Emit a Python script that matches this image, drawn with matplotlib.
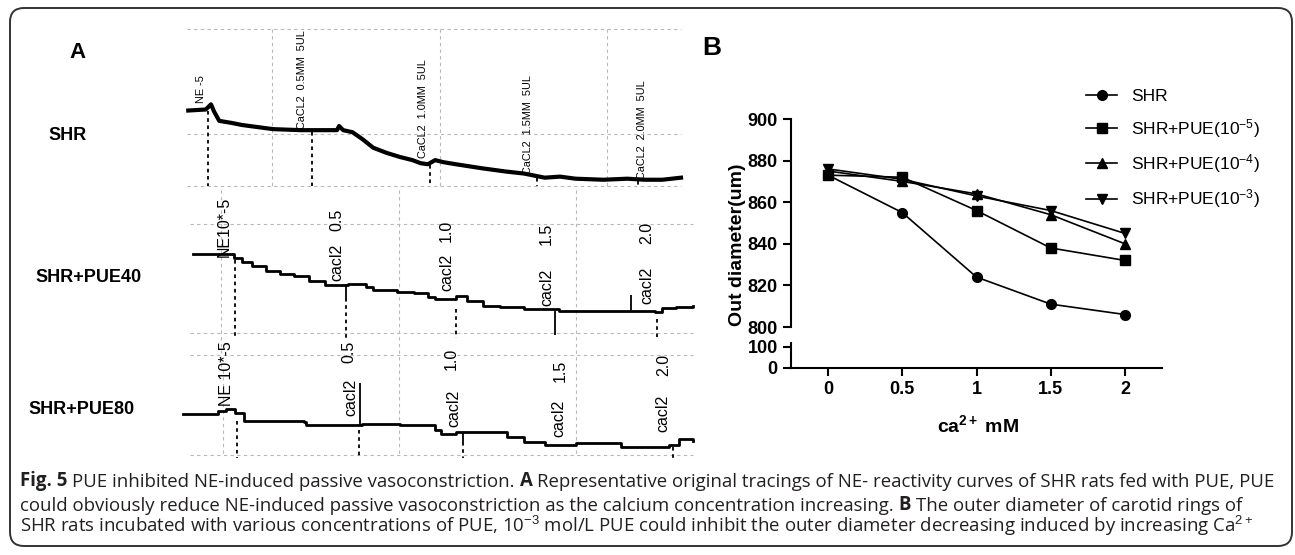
import matplotlib
matplotlib.use('Agg')
import matplotlib.pyplot as plt
from matplotlib.patches import FancyBboxPatch
from matplotlib.transforms import IdentityTransform

plt.rcParams['mathtext.fontset'] = 'custom'
plt.rcParams['mathtext.rm'] = 'Liberation Sans'
plt.rcParams['mathtext.it'] = 'Liberation Sans:italic'
plt.rcParams['mathtext.bf'] = 'Liberation Sans:bold'

W, H = 1295, 555

# ---------------------------------------------------------------------------
# panel B data: outer diameter (um) vs Ca2+ (mM)
ca_mm = [0, 0.5, 1, 1.5, 2]
shr = [873, 855, 824, 811, 806]
pue_5 = [873, 872, 856, 838, 832]
pue_4 = [875, 870, 864, 854, 840]
pue_3 = [876, 871, 863, 856, 845]
series_names = ['SHR', 'SHR+PUE(10$^{-5}$)', 'SHR+PUE(10$^{-4}$)', 'SHR+PUE(10$^{-3}$)']
series_markers = ['o', 's', '^', 'v']
y_ticks_top = [800, 820, 840, 860, 880, 900]
y_ticks_low = [0, 100]
x_ticks = [0, 0.5, 1, 1.5, 2]
x_tick_labels = ['0', '0.5', '1', '1.5', '2']

# ---------------------------------------------------------------------------
# panel A data: tracings (time, level)
shr_t = [188, 205, 208, 210, 213, 218, 230, 240, 255, 270, 297, 320, 332, 334, 338, 347, 357,
         367, 380, 393, 405, 413, 420, 427, 435, 447, 473, 495, 513, 533, 548, 563, 590, 613,
         630, 647, 665]
shr_y = [107, 106, 103, 101, 108, 117, 119, 121, 123, 125, 126, 126, 126, 122, 126, 128, 135,
         143, 148, 152, 155, 158, 159, 155, 157, 159, 163, 166, 168, 172, 171, 173, 174, 173,
         174, 174, 172]
shr_evt_t = [207, 308, 422, 526, 623]
shr_evt_y = [107, 128, 160, 172, 175]
shr_lab = ['NE -5', 'CaCL2  0.5MM  5UL', 'CaCL2  1.0MM  5UL', 'CaCL2  1.5MM  5UL',
           'CaCL2  2.0MM  5UL']
shr_lab_t = [200, 298, 415, 517, 627]
shr_lab_y = [100, 125, 153, 168, 173]

pue40_t = [193, 227, 232, 240, 250, 263, 277, 290, 305, 320, 343, 360, 367, 390, 407, 420, 427,
           447, 458, 473, 490, 513, 547, 580, 613, 640, 647, 660, 677]
pue40_y = [252, 252, 256, 260, 264, 268, 271, 273, 278, 282, 281, 284, 287, 289, 290, 294, 296,
           293, 297, 302, 303, 305, 307, 307, 307, 308, 304, 303, 302]
pue40_spike_t = [341, 543, 617]
pue40_spike_a = [281, 307, 307]
pue40_spike_b = [295, 330, 292]
pue40_evt_t = [233, 341, 447, 642]
pue40_evt_y = [258, 295, 305, 315]
pue40_cacl_t = [332, 438, 535, 632]
pue40_cacl_y = [278, 288, 302, 300]
pue40_num_y = [230, 240, 243, 242]

pue80_t = [183, 217, 225, 233, 242, 300, 302, 353, 356, 393, 427, 433, 447, 480, 497, 513, 533,
           563, 607, 653, 663, 677]
pue80_y = [413, 410, 408, 412, 419, 420, 423, 423, 422, 423, 428, 432, 430, 430, 435, 440, 443,
           441, 445, 443, 437, 439]
pue80_spike_t = [354, 454]
pue80_spike_a = [423, 430]
pue80_spike_b = [383, 440]
pue80_evt_t = [235, 353, 454, 657]
pue80_evt_y = [419, 428, 440, 445]
pue80_cacl_t = [345, 445, 547, 647]
pue80_cacl_y = [415, 425, 435, 430]
pue80_num_t = [343, 443, 548, 648]
pue80_num_y = [363, 370, 382, 376]

conc_labels = ['0.5', '1.0', '1.5', '2.0']

fig = plt.figure(figsize=(W / 100, H / 100), dpi=100)

# outer rounded frame
frame = FancyBboxPatch((10, 9), 1282, 538, boxstyle='round,pad=0,rounding_size=14',
                       transform=IdentityTransform(), fill=False, edgecolor='#333333', lw=1.4)
fig.add_artist(frame)

# ---------------------------------------------------------------------------
# panel A
def trace_axes(top_px, bot_px, y0):
    ax = fig.add_axes([180 / W, 1 - bot_px / H, 520 / W, (bot_px - top_px) / H])
    ax.set_xlim(180, 180 + 520 / 1.033)
    ax.set_ylim(y0 + (bot_px - y0) / 1.033, y0 + (top_px - y0) / 1.033)
    ax.axis('off')
    ax.patch.set_alpha(0)
    return ax

grid_kw = dict(colors='#b8b8b8', linestyles=(0, (3, 3)), lw=0.8)
evt_kw = dict(colors='black', linestyles=(0, (2, 2)), lw=1.3)
narrow = ['Liberation Sans Narrow', 'Liberation Sans', 'DejaVu Sans']

ax1 = trace_axes(10, 190, 0)
ax1.hlines([28, 130, 180], 187, 665, **grid_kw)
ax1.vlines([269, 432, 593], 28, 180, **grid_kw)
ax1.plot(shr_t, shr_y, color='black', lw=3)
ax1.vlines(shr_evt_t, shr_evt_y, 180, **evt_kw)
for lab, t, y in zip(shr_lab, shr_lab_t, shr_lab_y):
    ax1.text(t, y, lab, rotation=90, ha='center', va='bottom', fontsize=7.8,
             family=narrow)

ax2 = trace_axes(190, 370, 190)
ax2.hlines([223, 328, 350], 190, 677, **grid_kw)
ax2.vlines([220, 392, 563], 190, 364, **grid_kw)
ax2.plot(pue40_t, pue40_y, color='black', lw=2, drawstyle='steps-post')
ax2.vlines(pue40_spike_t, pue40_spike_a, pue40_spike_b, colors='black', lw=1.3)
ax2.vlines(pue40_evt_t, pue40_evt_y, 333, **evt_kw)
ax2.text(223, 255, 'NE10*-5', rotation=90, ha='center', va='bottom', fontsize=11.5,
         family='Liberation Sans')
for t, y, yn, lab in zip(pue40_cacl_t, pue40_cacl_y, pue40_num_y, conc_labels):
    ax2.text(t, y, 'cacl2', rotation=90, ha='center', va='bottom', fontsize=11.5,
             family='Liberation Sans')
    ax2.text(t, yn, lab, rotation=90, ha='center', va='bottom', fontsize=11.5,
             family='Liberation Sans')

ax3 = trace_axes(370, 460, 370)
ax3.hlines([452], 190, 677, **grid_kw)
ax3.vlines([222, 392, 563], 370, 452, **grid_kw)
ax3.plot(pue80_t, pue80_y, color='black', lw=2, drawstyle='steps-post')
ax3.vlines(pue80_spike_t, pue80_spike_a, pue80_spike_b, colors='black', lw=1.3)
ax3.vlines(pue80_evt_t, pue80_evt_y, 455, **evt_kw)
ax3.text(225, 405, 'NE 10*-5', rotation=90, ha='center', va='bottom', fontsize=11.5,
         family='Liberation Sans')
for t, y, tn, yn, lab in zip(pue80_cacl_t, pue80_cacl_y, pue80_num_t, pue80_num_y, conc_labels):
    ax3.text(t, y, 'cacl2', rotation=90, ha='center', va='bottom', fontsize=11.5,
             family='Liberation Sans')
    ax3.text(tn, yn, lab, rotation=90, ha='center', va='bottom', fontsize=11.5,
             family='Liberation Sans')

bold = dict(family='Liberation Sans', weight='bold')
fig.text(77 / W, 1 - 52 / H, 'A', fontsize=16, ha='center', va='center', **bold)
fig.text(48 / W, 1 - 135 / H, 'SHR', fontsize=13, ha='left', va='center', **bold)
fig.text(35 / W, 1 - 278 / H, 'SHR+PUE40', fontsize=13, ha='left', va='center', **bold)
fig.text(28 / W, 1 - 410 / H, 'SHR+PUE80', fontsize=13, ha='left', va='center', **bold)
fig.text(712 / W, 1 - 48 / H, 'B', fontsize=19, ha='center', va='center', **bold)

# ---------------------------------------------------------------------------
# panel B with broken y axis
ax_top = fig.add_axes([791 / W, 1 - 327 / H, 371 / W, 208 / H])
ax_low = fig.add_axes([791 / W, 1 - 368 / H, 371 / W, 25 / H])

for vals, name, m in zip([shr, pue_5, pue_4, pue_3], series_names, series_markers):
    ax_top.plot(ca_mm, vals, color='black', lw=1.2, marker=m, markersize=7, label=name,
                clip_on=False)

ax_top.set_xlim(-0.25, 2.25)
ax_top.set_ylim(800, 900)
ax_low.set_xlim(-0.25, 2.25)
ax_low.set_ylim(0, 119)
for ax in (ax_top, ax_low):
    ax.spines['top'].set_visible(False)
    ax.spines['right'].set_visible(False)
    ax.spines['left'].set_linewidth(1.5)
    ax.spines['bottom'].set_linewidth(1.5)
    ax.tick_params(width=1.5, length=6, labelsize=13)
    ax.patch.set_alpha(0)
ax_top.spines['bottom'].set_visible(False)
ax_top.set_xticks([])
ax_top.set_yticks(y_ticks_top)
ax_low.set_yticks(y_ticks_low)
ax_low.set_xticks(x_ticks)
ax_low.set_xticklabels(x_tick_labels)
for lbl in ax_top.get_yticklabels() + ax_low.get_yticklabels() + ax_low.get_xticklabels():
    lbl.set_fontweight('bold')
    lbl.set_family('Liberation Sans')

fig.text(737 / W, 1 - 245 / H, 'Out diameter(um)', rotation=90, ha='center', va='center',
         fontsize=14, **bold)
fig.text(978 / W, 1 - 425 / H, r'ca$^{\mathbf{2+}}$ mM', ha='center', va='center',
         fontsize=14, **bold)

ax_top.legend(loc='upper left', bbox_to_anchor=(1086 / W, 1 - 89 / H),
              bbox_transform=fig.transFigure, frameon=False,
              prop={'family': 'Liberation Sans', 'size': 12.5}, handlelength=1.8,
              handletextpad=0.8, labelspacing=0.72, borderpad=0, borderaxespad=0)

# ---------------------------------------------------------------------------
# caption
cap_font = dict(family=['Open Sans', 'DejaVu Sans'], fontsize=13.4, color='#231f20')
caption = [
    [('Fig. 5', 'bold'), ('PUE inhibited NE-induced passive vasoconstriction.', 'normal'),
     ('A', 'bold'),
     ('Representative original tracings of NE- reactivity curves of SHR rats fed with PUE, PUE',
      'normal')],
    [('could obviously reduce NE-induced passive vasoconstriction as the calcium concentration'
      ' increasing.', 'normal'), ('B', 'bold'),
     ('The outer diameter of carotid rings of', 'normal')],
    [('SHR rats incubated with various concentrations of PUE, 10$^{-3}$ mol/L PUE could inhibit'
      ' the outer diameter decreasing induced by increasing Ca$^{2+}$', 'normal')],
]
cap_bottom = [491, 515, 538]
for parts, yb in zip(caption, cap_bottom):
    prev = None
    for txt, w in parts:
        if prev is None:
            prev = fig.text(20 / W, 1 - yb / H, txt, weight=w, ha='left', va='bottom', **cap_font)
        else:
            prev = fig.add_artist(plt.Annotation(txt, xy=(1, 0), xycoords=prev, xytext=(3.5, 0),
                                                 textcoords='offset points', ha='left',
                                                 va='bottom', weight=w, **cap_font))

fig.savefig('out.png', dpi=100)
